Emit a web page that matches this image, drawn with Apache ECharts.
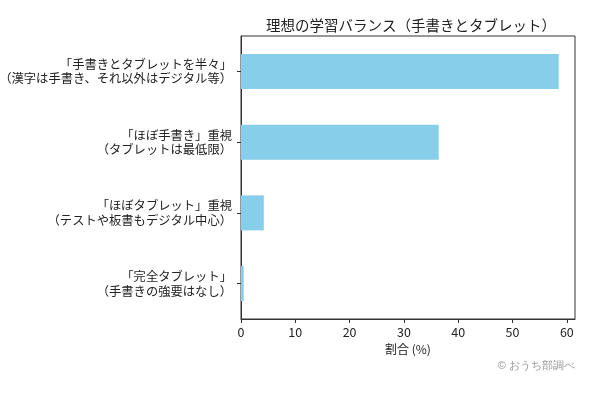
<!DOCTYPE html>
<html>
<head>
<meta charset="utf-8">
<script src="https://cdn.jsdelivr.net/npm/echarts@6/dist/echarts.min.js"></script>
<style>
  html, body { margin: 0; padding: 0; background: #fff; }
  #chart { width: 600px; height: 400px; }
</style>
</head>
<body>
<div id="chart"></div>
<script>
// 学習スタイル (上から順)
const categories = [
  '「手書きとタブレットを半々」\n（漢字は手書き、それ以外はデジタル等）',
  '「ほぼ手書き」重視\n（タブレットは最低限）',
  '「ほぼタブレット」重視\n（テストや板書もデジタル中心）',
  '「完全タブレット」\n（手書きの強要はなし）'
]
const shares = [58.5, 36.4, 4.2, 0.5]
const xTicks = [0, 10, 20, 30, 40, 50, 60]

const font = '"Noto Sans CJK JP", "Noto Sans", sans-serif'
let chart = echarts.init(document.getElementById('chart'))
chart.setOption({
  animation: false,
  textStyle: { fontFamily: font },
  title: {
    text: '理想の学習バランス（手書きとタブレット）',
    left: 406,
    textAlign: 'center',
    top: 13,
    textStyle: { fontSize: 14.5, fontWeight: 'normal', color: '#222', fontFamily: font }
  },
  grid: {
    left: 241, right: 25, top: 36, bottom: 81,
    outerBoundsMode: 'none',
    show: true, borderColor: '#333', borderWidth: 1
  },
  xAxis: {
    type: 'value',
    min: 0,
    max: 61.5,
    interval: 10,
    name: '割合 (%)',
    nameLocation: 'middle',
    nameGap: 24,
    nameTextStyle: { fontSize: 12, color: '#222' },
    splitLine: { show: false },
    axisLine: { show: true, lineStyle: { color: '#333' } },
    axisTick: { show: true, length: 4, lineStyle: { color: '#333' } },
    axisLabel: {
      fontSize: 12.5, color: '#222', margin: 7,
      showMaxLabel: false,
      formatter: v => xTicks.includes(v) ? String(v) : ''
    }
  },
  yAxis: {
    type: 'category',
    data: categories,
    inverse: true,
    axisLine: { show: true, lineStyle: { color: '#333' } },
    axisTick: { show: true, alignWithLabel: true, length: 4, lineStyle: { color: '#333' } },
    axisLabel: { fontSize: 12.3, color: '#222', margin: 9, lineHeight: 14.5, align: 'right' }
  },
  graphic: [{
    type: 'text',
    right: 25,
    top: 360,
    style: { text: '© おうち部調べ', fontSize: 11, fill: '#999', font: '11px ' + font }
  }],
  series: [{
    type: 'bar',
    data: shares,
    barWidth: 35,
    itemStyle: { color: '#87CEEB' }
  }]
})
</script>
</body>
</html>
